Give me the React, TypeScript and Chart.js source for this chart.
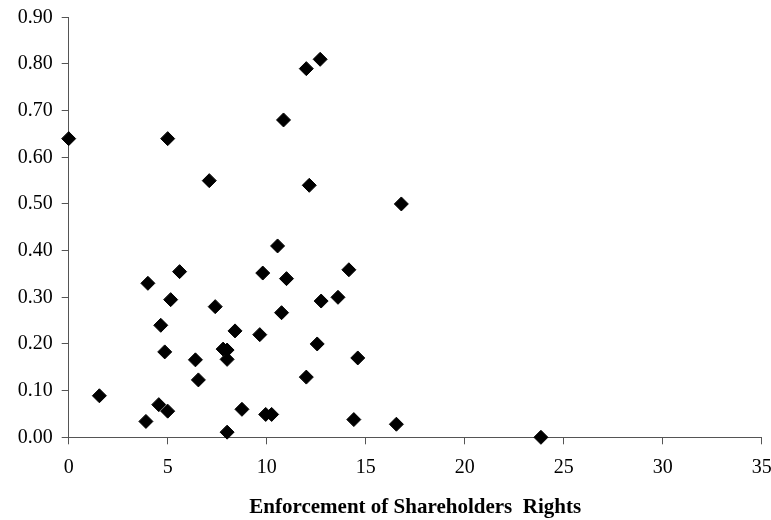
import React, { useEffect, useRef } from "react";
import { Chart, registerables } from "chart.js";

Chart.register(...registerables);

const enforcement: number[] = [
  0, 5.0, 7.1, 10.85, 12.0, 12.7, 12.15, 16.8, 10.55, 4.0,
  5.6, 5.15, 4.65, 4.85, 1.55, 3.9, 4.55, 5.0, 6.4, 6.55,
  7.4, 7.8, 8.0, 8.0, 8.4, 8.0, 8.75, 9.65, 9.8, 9.95,
  10.25, 11.0, 10.75, 12.75, 13.6, 14.15, 12.55, 12.0, 14.6, 14.4,
  16.55, 23.85,
];
const outcome: number[] = [
  0.64, 0.64, 0.55, 0.68, 0.79, 0.81, 0.54, 0.5, 0.41, 0.33,
  0.355, 0.295, 0.24, 0.183, 0.089, 0.034, 0.07, 0.056, 0.166, 0.123,
  0.28, 0.189, 0.187, 0.167, 0.228, 0.011, 0.06, 0.22, 0.352, 0.049,
  0.049, 0.34, 0.267, 0.292, 0.3, 0.359, 0.2, 0.129, 0.17, 0.038,
  0.028, 0.0,
];
const xTitle = "Enforcement of Shareholders  Rights";
const xMin = 0, xMax = 35, xStep = 5;
const yMin = 0, yMax = 0.9, yStep = 0.1;

export default function App() {
  const ref = useRef<HTMLCanvasElement | null>(null);
  useEffect(() => {
    document.body.style.margin = "0";
    const ctx = ref.current!;
    const font = "'Liberation Serif', 'Times New Roman', serif";
    const chart = new Chart(ctx, {
      type: "scatter",
      data: {
        datasets: [
          {
            data: enforcement.map((x, i) => ({ x, y: outcome[i] })),
            pointStyle: "rectRot",
            pointRadius: 7,
            pointBorderWidth: 1,
            backgroundColor: "#000",
            borderColor: "#000",
            clip: false as any,
          },
        ],
      },
      options: {
        animation: false,
        responsive: false,
        layout: { padding: { top: 17.3, right: 9.3, left: 0, bottom: 0 } },
        plugins: { legend: { display: false }, tooltip: { enabled: false } },
        scales: {
          x: {
            type: "linear",
            min: xMin,
            max: xMax,
            ticks: { stepSize: xStep, color: "#000", font: { family: font, size: 20 }, padding: 11, maxRotation: 0 },
            grid: { drawOnChartArea: false, drawTicks: true, tickLength: 7, color: "#555" },
            border: { display: true, color: "#555", width: 1 },
            title: {
              display: true,
              text: xTitle,
              color: "#000",
              font: { family: font, size: 21, weight: "bold" },
              padding: { top: 0, bottom: 0 },
            },
            afterFit: (s: any) => {
              s.height = 82.7;
              s.paddingLeft = 0;
              s.paddingRight = 0;
            },
          },
          y: {
            type: "linear",
            min: yMin,
            max: yMax,
            ticks: {
              stepSize: yStep,
              color: "#000",
              font: { family: font, size: 20 },
              padding: 9,
              callback: (v: any) => Number(v).toFixed(2),
            },
            grid: { drawOnChartArea: false, drawTicks: true, tickLength: 7, color: "#555" },
            border: { display: true, color: "#555", width: 1 },
            afterFit: (s: any) => {
              s.width = 68.7;
              s.paddingTop = 0;
              s.paddingBottom = 0;
            },
          },
        },
      },
    });
    return () => chart.destroy();
  }, []);
  return (
    <div style={{ width: 771, height: 520, background: "#fff" }}>
      <canvas ref={ref} width={771} height={520} />
    </div>
  );
}
